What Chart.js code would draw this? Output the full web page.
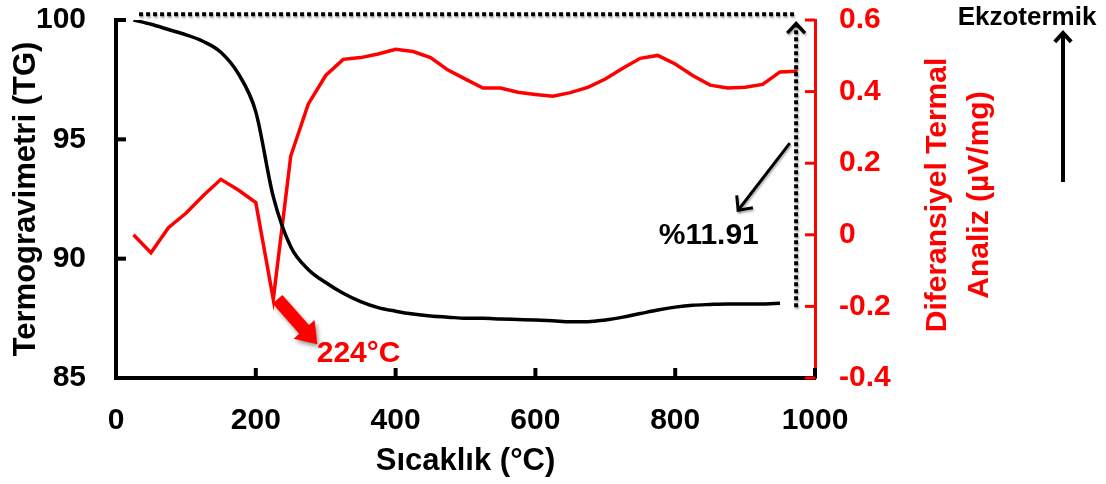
<!DOCTYPE html>
<html lang="tr">
<head>
    <meta charset="UTF-8">
    <title>TG / DTA</title>
    <style>
        body {
            margin: 0;
            background: #fff;
        }
        #chart {
            display: block;
        }
    </style>
    <script src="https://cdn.jsdelivr.net/npm/chart.js"></script>
</head>
<body>
<canvas id="chart" width="1106" height="484"></canvas>

<script>
    // temperatures (°C) and readings taken off the figure
    const tgTemps = [25, 50, 75, 100, 125, 150, 175, 200, 225, 250, 275, 300, 325, 350, 375, 400, 425, 450, 475, 500,
        525, 550, 575, 600, 625, 650, 675, 700, 725, 750, 775, 800, 825, 850, 875, 900, 925, 950];
    const tgValues = [100, 99.82, 99.6, 99.38, 99.1, 98.65, 97.75, 96.15, 92.6, 90.5, 89.55, 89.0, 88.55, 88.2, 87.95,
        87.8, 87.68, 87.6, 87.55, 87.5, 87.5, 87.47, 87.45, 87.43, 87.4, 87.36, 87.36, 87.43, 87.55, 87.7, 87.85,
        87.97, 88.05, 88.08, 88.1, 88.1, 88.1, 88.13];

    const dtaTemps = [25, 50, 75, 100, 125, 150, 175, 200, 225, 250, 275, 300, 325, 350, 375, 400, 425, 450, 475, 500,
        525, 550, 575, 600, 625, 650, 675, 700, 725, 750, 775, 800, 825, 850, 875, 900, 925, 950, 975];
    const dtaValues = [0.0, -0.05, 0.02, 0.06, 0.11, 0.155, 0.125, 0.09, -0.18, 0.22, 0.365, 0.445, 0.49, 0.495, 0.505,
        0.518, 0.512, 0.495, 0.46, 0.435, 0.41, 0.41, 0.398, 0.392, 0.387, 0.397, 0.412, 0.435, 0.465, 0.493, 0.501,
        0.477, 0.445, 0.418, 0.41, 0.412, 0.42, 0.455, 0.457];

    const xTicks = [0, 200, 400, 600, 800, 1000];
    const tgTicks = [85, 90, 95, 100];
    const dtaTicks = [-0.4, -0.2, 0, 0.2, 0.4, 0.6];

    const FONT = "'Liberation Sans', Arial, sans-serif";
    const RED = '#ff0000';

    function pairs(xs, ys) {
        return xs.map((x, i) => ({x: x, y: ys[i]}));
    }

    function arrowHead(ctx, x1, y1, x2, y2, size) {
        // open chevron at (x2, y2)
        const a = Math.atan2(y2 - y1, x2 - x1);
        ctx.beginPath();
        ctx.moveTo(x2 - size * Math.cos(a - 0.75), y2 - size * Math.sin(a - 0.75));
        ctx.lineTo(x2, y2);
        ctx.lineTo(x2 - size * Math.cos(a + 0.75), y2 - size * Math.sin(a + 0.75));
        ctx.stroke();
    }

    // keep the plot box where the original has it
    function noPad(scale) {
        scale.paddingTop = 0;
        scale.paddingBottom = 0;
        scale.paddingLeft = 0;
        scale.paddingRight = 0;
    }

    // inward tick marks, like the original
    const innerTicks = {
        id: 'innerTicks',
        beforeDatasetsDraw(chart) {
            const {ctx, chartArea, scales} = chart;
            ctx.save();
            ctx.lineCap = 'butt';
            ctx.strokeStyle = '#000';
            ctx.lineWidth = 4;
            xTicks.forEach(v => {
                const px = scales.x.getPixelForValue(v);
                ctx.beginPath();
                ctx.moveTo(px, chartArea.bottom);
                ctx.lineTo(px, chartArea.bottom - 10);
                ctx.stroke();
            });
            tgTicks.forEach(v => {
                const py = scales.y.getPixelForValue(v);
                ctx.beginPath();
                ctx.moveTo(chartArea.left, py);
                ctx.lineTo(chartArea.left + 10, py);
                ctx.stroke();
            });
            ctx.strokeStyle = RED;
            ctx.lineWidth = 3;
            dtaTicks.forEach(v => {
                const py = scales.y2.getPixelForValue(v);
                ctx.beginPath();
                ctx.moveTo(chartArea.right, py);
                ctx.lineTo(chartArea.right - 10, py);
                ctx.stroke();
            });
            ctx.restore();
        }
    };

    // notes, arrows and the right axis title
    const notes = {
        id: 'notes',
        afterDatasetsDraw(chart) {
            const {ctx, chartArea, scales} = chart;
            const X = v => scales.x.getPixelForValue(v);
            const Y = v => scales.y.getPixelForValue(v);
            ctx.save();

            // dotted mass-loss marker
            ctx.strokeStyle = '#000';
            ctx.lineWidth = 4;
            ctx.setLineDash([4, 3]);
            ctx.shadowColor = 'rgba(0,0,0,0.3)';
            ctx.shadowOffsetX = 1;
            ctx.shadowOffsetY = 2;
            ctx.shadowBlur = 2;
            ctx.beginPath();
            ctx.moveTo(X(33), Y(100.24));
            ctx.lineTo(X(970), Y(100.24));
            ctx.stroke();
            ctx.beginPath();
            ctx.moveTo(X(973), Y(87.96));
            ctx.lineTo(X(973), Y(99.85));
            ctx.stroke();
            ctx.setLineDash([]);
            ctx.lineWidth = 3.5;
            arrowHead(ctx, X(973), Y(98), X(973), Y(99.85), 13);

            // black diagonal arrow
            ctx.lineWidth = 3;
            ctx.beginPath();
            ctx.moveTo(X(964), Y(94.84));
            ctx.lineTo(X(890), Y(92.03));
            ctx.stroke();
            arrowHead(ctx, X(964), Y(94.84), X(890), Y(92.03), 15);
            ctx.shadowColor = 'transparent';

            ctx.fillStyle = '#000';
            ctx.font = 'bold 30px ' + FONT;
            ctx.textAlign = 'center';
            ctx.textBaseline = 'middle';
            ctx.fillText('%11.91', X(848), Y(90.98));

            // thick red arrow to the DTA peak
            const x1 = X(231), y1 = Y(88.3), x2 = X(288), y2 = Y(86.41);
            const a = Math.atan2(y2 - y1, x2 - x1);
            const len = Math.hypot(x2 - x1, y2 - y1);
            ctx.translate(x1, y1);
            ctx.rotate(a);
            ctx.shadowColor = 'rgba(0,0,0,0.4)';
            ctx.shadowOffsetX = 2;
            ctx.shadowOffsetY = 3;
            ctx.shadowBlur = 4;
            ctx.fillStyle = RED;
            ctx.beginPath();
            ctx.moveTo(0, -6.5);
            ctx.lineTo(len - 20, -6.5);
            ctx.lineTo(len - 20, -14);
            ctx.lineTo(len, 0);
            ctx.lineTo(len - 20, 14);
            ctx.lineTo(len - 20, 6.5);
            ctx.lineTo(0, 6.5);
            ctx.closePath();
            ctx.fill();
            ctx.setTransform(1, 0, 0, 1, 0, 0);
            ctx.shadowColor = 'transparent';

            ctx.fillStyle = RED;
            ctx.font = 'bold 30px ' + FONT;
            ctx.fillText('224°C', X(347), Y(86.0));

            // right axis title, two lines reading upward
            const midY = (chartArea.top + chartArea.bottom) / 2 - 4;
            ctx.font = 'bold 30px ' + FONT;
            ctx.translate(chartArea.right + 123, midY);
            ctx.rotate(-Math.PI / 2);
            ctx.fillText('Diferansiyel Termal', 0, 0);
            ctx.fillText('Analiz (µV/mg)', 0, 42);
            ctx.setTransform(1, 0, 0, 1, 0, 0);

            // exothermic direction
            ctx.fillStyle = '#000';
            ctx.font = 'bold 26px ' + FONT;
            ctx.fillText('Ekzotermik', chartArea.right + 212, chartArea.top - 2);
            ctx.strokeStyle = '#000';
            ctx.lineWidth = 4;
            const ax = chartArea.right + 248;
            ctx.beginPath();
            ctx.moveTo(ax, chartArea.top + 162);
            ctx.lineTo(ax, chartArea.top + 14);
            ctx.stroke();
            arrowHead(ctx, ax, chartArea.top + 100, ax, chartArea.top + 13, 12);

            ctx.restore();
        }
    };

    const ctx = document.getElementById('chart').getContext('2d');
    new Chart(ctx, {
        type: 'line',
        data: {
            datasets: [{
                label: 'TG',
                data: pairs(tgTemps, tgValues),
                yAxisID: 'y',
                borderColor: '#000',
                borderWidth: 3.5,
                pointRadius: 0,
                cubicInterpolationMode: 'monotone'
            }, {
                label: 'DTA',
                data: pairs(dtaTemps, dtaValues),
                yAxisID: 'y2',
                borderColor: RED,
                borderWidth: 3.5,
                pointRadius: 0,
                tension: 0
            }]
        },
        options: {
            responsive: false,
            animation: false,
            devicePixelRatio: 1,
            layout: {padding: {top: 20, left: 0, right: 0, bottom: 0}},
            plugins: {
                legend: {display: false},
                tooltip: {enabled: false}
            },
            scales: {
                x: {
                    type: 'linear',
                    position: 'bottom',
                    min: 0,
                    max: 1000,
                    afterFit(scale) { scale.height = 106; noPad(scale); },
                    afterBuildTicks(scale) { scale.ticks = xTicks.map(v => ({value: v})); },
                    grid: {display: false, drawTicks: false},
                    border: {display: true, color: '#000', width: 4},
                    ticks: {
                        color: '#000',
                        padding: 25,
                        maxRotation: 0,
                        font: {family: FONT, size: 30, weight: 'bold'},
                        callback: v => String(v)
                    },
                    title: {
                        display: true,
                        text: 'Sıcaklık (°C)',
                        color: '#000',
                        padding: {top: 0, bottom: 4},
                        font: {family: FONT, size: 31, weight: 'bold'}
                    }
                },
                y: {
                    position: 'left',
                    min: 85,
                    max: 100,
                    afterFit(scale) { scale.width = 116; noPad(scale); },
                    afterBuildTicks(scale) { scale.ticks = tgTicks.map(v => ({value: v})); },
                    grid: {display: false, drawTicks: false},
                    border: {display: true, color: '#000', width: 4},
                    ticks: {
                        color: '#000',
                        padding: 30,
                        font: {family: FONT, size: 30, weight: 'bold'}
                    },
                    title: {
                        display: true,
                        text: 'Termogravimetri (TG)',
                        color: '#000',
                        padding: {top: 8, bottom: 0},
                        font: {family: FONT, size: 31, weight: 'bold'}
                    }
                },
                y2: {
                    position: 'right',
                    min: -0.4,
                    max: 0.6,
                    afterFit(scale) { scale.width = 291; noPad(scale); },
                    afterBuildTicks(scale) { scale.ticks = dtaTicks.map(v => ({value: v})); },
                    grid: {display: false, drawTicks: false},
                    border: {display: true, color: RED, width: 3},
                    ticks: {
                        color: RED,
                        padding: 24,
                        font: {family: FONT, size: 30, weight: 'bold'},
                        callback: v => Math.abs(v) < 1e-9 ? '0' : v.toFixed(1)
                    }
                }
            }
        },
        plugins: [innerTicks, notes]
    });
</script>
</body>
</html>
